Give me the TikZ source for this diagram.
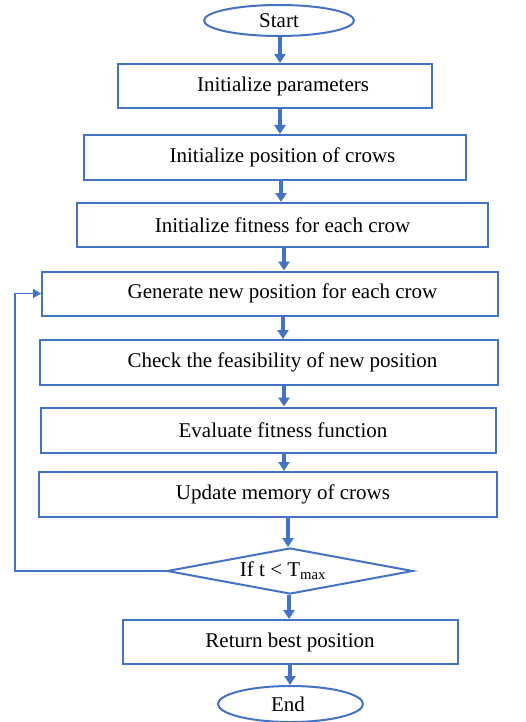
\documentclass[tikz,border=0pt]{standalone}
\usepackage{fontspec}
\setmainfont{Liberation Serif}
\usetikzlibrary{shapes.geometric,arrows.meta}
\definecolor{fblue}{HTML}{4472C4}
\begin{document}
\begin{tikzpicture}[x=1pt,y=-1pt,
  box/.style={draw=fblue, line width=2pt, rectangle, inner sep=0pt},
  txt/.style={font=\fontsize{21}{25}\selectfont, inner sep=0pt},
  oval/.style={draw=fblue, line width=2pt, ellipse, inner sep=0pt},
  arr/.style={draw=fblue, line width=4pt, -{Triangle[length=9pt,width=11pt]}},
  loop/.style={draw=fblue, line width=1.6pt, -{Triangle[length=8pt,width=9pt]}}]
\useasboundingbox (0,0) rectangle (525,722);
\fill[white] (0,0) rectangle (525,722);
% start
\node[oval, minimum width=150pt, minimum height=31pt] (start) at (279,20.5) {};
\node[txt] (tstart) at (279,20.5) {Start};
% boxes
\node[box, minimum width=314pt, minimum height=44pt] (b1) at (275,86) {};
\node[txt] (t1) at (283,86) {Initialize parameters};
\node[box, minimum width=382pt, minimum height=45pt] (b2) at (275,157.5) {};
\node[txt] (t2) at (282.5,157.5) {Initialize position of crows};
\node[box, minimum width=411pt, minimum height=44pt] (b3) at (282.5,225) {};
\node[txt] (t3) at (282.5,225) {Initialize fitness for each crow};
\node[box, minimum width=456pt, minimum height=44pt] (b4) at (270,293.5) {};
\node[txt] (t4) at (282.5,293.5) {Generate new position for each crow};
\node[box, minimum width=458pt, minimum height=45pt] (b5) at (269,362.5) {};
\node[txt] (t5) at (282.5,362.5) {Check the feasibility of new position};
\node[box, minimum width=455pt, minimum height=45pt] (b6) at (268.5,430) {};
\node[txt] (t6) at (283,430) {Evaluate fitness function};
\node[box, minimum width=458pt, minimum height=45pt] (b7) at (268,494.5) {};
\node[txt] (t7) at (283,494.5) {Update memory of crows};
% decision
\node[draw=fblue, line width=2pt, diamond, aspect=5.3, minimum width=246pt, minimum height=46pt, inner sep=0pt] (dec) at (290,571) {};
\node[txt] (tdec) at (283,571) {If t < T\textsubscript{max}};
% return
\node[box, minimum width=335pt, minimum height=44pt] (b8) at (290.5,642) {};
\node[txt] (t8) at (290,642) {Return best position};
% end
\node[oval, minimum width=145pt, minimum height=36pt] (end) at (290.5,704) {};
\node[txt] (tend) at (288,704) {End};
% arrow x positions
\coordinate (x1) at (280,0);
\coordinate (x2) at (280,0);
\coordinate (x3) at (281,0);
\coordinate (x4) at (284,0);
\coordinate (x5) at (283,0);
\coordinate (x6) at (284,0);
\coordinate (x7) at (284,0);
\coordinate (x8) at (288,0);
\coordinate (x9) at (289,0);
\coordinate (x10) at (290,0);
\draw[arr] (start.south -| x1) -- (b1.north -| x1);
\draw[arr] (b1.south -| x2) -- (b2.north -| x2);
\draw[arr] (b2.south -| x3) -- (b3.north -| x3);
\draw[arr] (b3.south -| x4) -- (b4.north -| x4);
\draw[arr] (b4.south -| x5) -- (b5.north -| x5);
\draw[arr] (b5.south -| x6) -- (b6.north -| x6);
\draw[arr] (b6.south -| x7) -- (b7.north -| x7);
\draw[arr] (b7.south -| x8) -- (dec.north -| x8);
\draw[arr] (dec.south -| x9) -- (b8.north -| x9);
\draw[arr] (b8.south -| x10) -- (end.north -| x10);
% loop back
\coordinate (lx) at (15,0);
\draw[loop] (dec.west) -- (dec.west -| lx) -- (b4.west -| lx) -- (b4.west);
\end{tikzpicture}
\end{document}
